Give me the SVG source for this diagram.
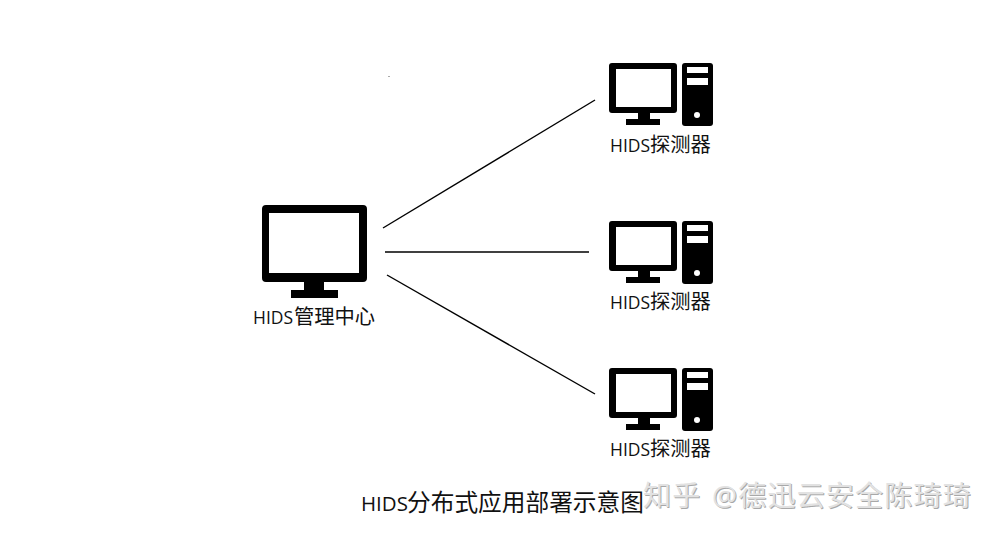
<svg xmlns="http://www.w3.org/2000/svg" width="998" height="538" viewBox="0 0 998 538">
<style>
text{font-family:"Open Sans","Noto Sans CJK SC",sans-serif;fill:#111}
.l{font-size:20.300px}
.a{font-size:17.500px}
.t{font-size:23.700px}
.ta{font-size:20.500px}
.m{font-size:28px;letter-spacing:1.200px;fill:#e2e2e2;text-shadow:1px 1px 0 #a8a8a8}
.c{stroke:#000;stroke-width:1.4;fill:none}
.k{fill:#000}
.w{fill:#fff}
</style>
<defs>
<g id="pc">
<path class="k" fill-rule="evenodd" d="M3 0H65Q68 0 68 3V47Q68 50 65 50H41V56H51V62H17V56H29V50H3Q0 50 0 47V3Q0 0 3 0ZM7 6V44H62V6Z"/>
<rect class="k" x="73" y="0" width="31" height="63" rx="3"/>
<rect class="w" x="78" y="4" width="21" height="6"/>
<rect class="w" x="78" y="15" width="21" height="7"/>
<circle class="w" cx="88" cy="52" r="3"/>
</g>
</defs>
<rect width="998" height="538" fill="#fff"/>
<g id="connectors">
<line class="c" x1="383" y1="228" x2="595" y2="100"/>
<line class="c" x1="385" y1="252" x2="589" y2="252"/>
<line class="c" x1="387" y1="275" x2="595" y2="394"/>
</g>
<g id="manager">
<path class="k" fill-rule="evenodd" d="M266 205H363Q367 205 367 209V278Q367 282 363 282H324V290H338V298H291V290H304V282H266Q262 282 262 278V209Q262 205 266 205ZM269 213V273H359V213Z"/>
<text x="253" y="324"><tspan class="a">HIDS</tspan><tspan class="l" x="294">管理中心</tspan></text>
</g>
<g id="probe1"><use href="#pc" x="609" y="63"/><text x="610" y="152"><tspan class="a">HIDS</tspan><tspan class="l" x="650">探测器</tspan></text></g>
<g id="probe2"><use href="#pc" x="609" y="221"/><text x="610" y="309"><tspan class="a">HIDS</tspan><tspan class="l" x="650">探测器</tspan></text></g>
<g id="probe3"><use href="#pc" x="609" y="368"/><text x="610" y="456"><tspan class="a">HIDS</tspan><tspan class="l" x="650">探测器</tspan></text></g>
<text x="361" y="511"><tspan class="ta">HIDS</tspan><tspan class="t" x="407">分布式应用部署示意图</tspan></text>
<text class="m" x="643" y="506">知乎<tspan x="712">@德迅云安全陈琦琦</tspan></text>
<rect x="388.500" y="76" width="1" height="1" fill="#555"/>
</svg>
